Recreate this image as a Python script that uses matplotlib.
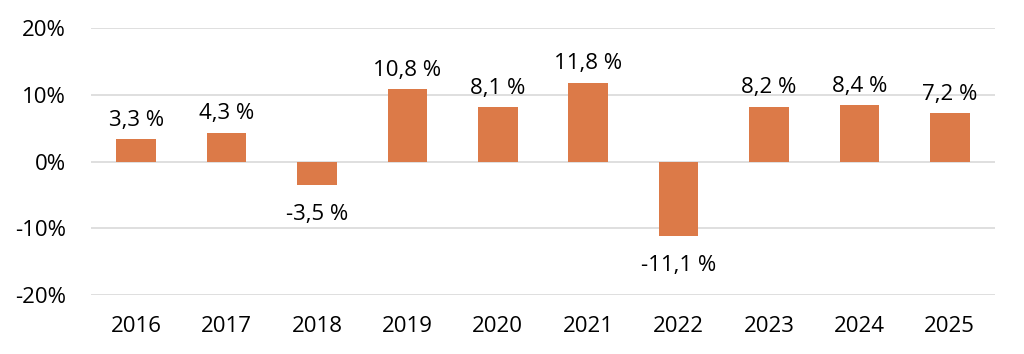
import matplotlib
matplotlib.use("Agg")
import matplotlib.pyplot as plt

years = ["2016", "2017", "2018", "2019", "2020", "2021", "2022", "2023", "2024", "2025"]
values = [3.3, 4.3, -3.5, 10.8, 8.1, 11.8, -11.1, 8.2, 8.4, 7.2]
yticks = [-20, -10, 0, 10, 20]
ytick_labels = ["-20%", "-10%", "0%", "10%", "20%"]

plt.rcParams['font.family'] = ['Open Sans', 'DejaVu Sans']

fig = plt.figure(figsize=(10.24, 3.54), dpi=100)
ax = fig.add_axes([91/1024, 1-295/354, (995-91)/1024, (295-28)/354])

x = range(len(years))
bar_color = "#DC7A48"
ax.bar(x, values, width=0.44, color=bar_color, zorder=3)

fs = 16
for xi, v in zip(x, values):
    label = f"{v:.1f}".replace(".", ",") + " %"
    if v >= 0:
        ax.annotate(label, (xi, v), xytext=(0, 6), textcoords="offset points",
                    ha="center", va="bottom", fontsize=fs, color="#000000")
    else:
        ax.annotate(label, (xi, v), xytext=(0, -14), textcoords="offset points",
                    ha="center", va="top", fontsize=fs, color="#000000")

ax.set_ylim(-20, 20)
ax.set_xlim(-0.5, len(years) - 0.5)
ax.set_yticks(yticks)
ax.set_yticklabels(ytick_labels)
ax.set_xticks(list(x))
ax.set_xticklabels(years)
ax.tick_params(axis="both", length=0, labelsize=fs, colors="#000000")
ax.tick_params(axis="y", pad=18)
ax.tick_params(axis="x", pad=15)
ax.grid(axis="y", color="#D9D9D9", linewidth=1.2, zorder=0)
for s in ax.spines.values():
    s.set_visible(False)

fig.savefig("out.png", dpi=100)
